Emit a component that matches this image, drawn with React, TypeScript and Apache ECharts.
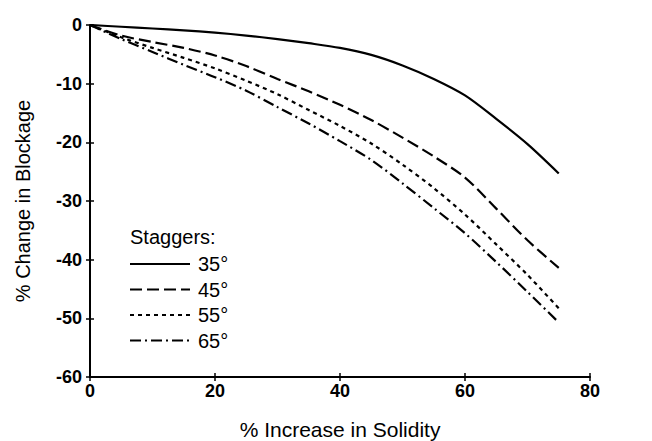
import React, { useEffect, useRef } from "react";
import * as echarts from "echarts";

// % increase in solidity (x) sampled every 5 units
const solidity = [0, 5, 10, 15, 20, 25, 30, 35, 40, 45, 50, 55, 60, 65, 70, 75];

// % change in blockage for each stagger angle
const stagger35 = [0, -0.3, -0.6, -0.9, -1.3, -1.8, -2.4, -3.1, -3.9, -5.1, -6.9, -9.2, -12.0, -16.0, -20.3, -25.3];
const stagger45 = [0, -1.8, -2.9, -3.9, -5.2, -7.0, -9.2, -11.3, -13.6, -16.2, -19.2, -22.4, -26.0, -31.3, -36.7, -41.4];
const stagger55 = [0, -2.1, -3.9, -5.6, -7.4, -9.5, -11.8, -14.5, -17.2, -20.2, -23.8, -27.8, -32.3, -37.4, -42.6, -48.3];
const stagger65 = [0, -2.4, -4.6, -6.8, -8.9, -11.2, -14.0, -16.8, -19.8, -23.0, -27.0, -31.2, -35.5, -40.4, -45.5, -50.7];

const seriesNames = ["35°", "45°", "55°", "65°"];
const seriesValues = [stagger35, stagger45, stagger55, stagger65];
const dashes: (string | number[])[] = ["solid", [12, 5], [4, 4], [11, 4, 2, 4]];

const xTicks = { min: 0, max: 80, interval: 20 };
const yTicks = { min: -60, max: 0, interval: 10 };

const FONT = "'Liberation Sans', Arial, Helvetica, sans-serif";

export default function App() {
  const ref = useRef<HTMLDivElement>(null);

  useEffect(() => {
    if (!ref.current) return;
    const chart = echarts.init(ref.current, undefined, { renderer: "svg" });

    // fixed plot rectangle; labels and names may sit outside it freely
    const grid = { left: 90, right: 62, top: 25, bottom: 64, outerBoundsMode: "none" };

    const axisBase = {
      type: "value" as const,
      splitLine: { show: false },
    };

    // legend block drawn at the lower left of the plot
    const legendX = 130;
    const legendTitleY = 237;
    const firstRowY = 264;
    const rowGap = 25.5;
    const legendGraphics: any[] = [
      {
        type: "text",
        x: legendX,
        y: legendTitleY,
        style: { text: "Staggers:", font: `20px ${FONT}`, fill: "#000", verticalAlign: "middle" },
      },
    ];
    seriesNames.forEach((name, i) => {
      const y = firstRowY + rowGap * i;
      const d = dashes[i];
      legendGraphics.push({
        type: "line",
        shape: { x1: legendX, y1: y, x2: legendX + 60, y2: y },
        style: {
          stroke: "#000",
          lineWidth: 2.2,
          lineDash: typeof d === "string" ? null : d,
        },
      });
      legendGraphics.push({
        type: "text",
        x: legendX + 68,
        y: y,
        style: {
          text: name,
          font: `20px ${FONT}`,
          fill: "#000",
          verticalAlign: "middle",
        },
      });
    });

    chart.setOption({
      animation: false,
      backgroundColor: "#fff",
      grid,
      xAxis: [
        {
          ...axisBase,
          ...xTicks,
          position: "bottom",
          name: "% Increase in Solidity",
          nameLocation: "middle",
          nameGap: 42,
          nameTextStyle: { fontFamily: FONT, fontSize: 21, color: "#000" },
          axisLine: { show: true, onZero: false, lineStyle: { color: "#000", width: 2 } },
          axisTick: { show: true, length: 4, lineStyle: { color: "#000", width: 1.5 } },
          axisLabel: { fontFamily: FONT, fontSize: 18, fontWeight: "bold", color: "#000", margin: 5 },
        },
        {
          ...axisBase,
          ...xTicks,
          position: "bottom",
          axisLine: { show: false, onZero: false },
          axisTick: { show: true, inside: true, length: 4, lineStyle: { color: "#000", width: 1.5 } },
          axisLabel: { show: false },
        },
      ],
      yAxis: [
        {
          ...axisBase,
          ...yTicks,
          position: "left",
          name: "% Change in Blockage",
          nameLocation: "middle",
          nameGap: 57,
          nameTextStyle: { fontFamily: FONT, fontSize: 20, color: "#000" },
          axisLine: { show: true, onZero: false, lineStyle: { color: "#000", width: 2 } },
          axisTick: { show: true, length: 4, lineStyle: { color: "#000", width: 1.5 } },
          axisLabel: { fontFamily: FONT, fontSize: 18, fontWeight: "bold", color: "#000", margin: 8 },
        },
        {
          ...axisBase,
          ...yTicks,
          position: "left",
          axisLine: { show: false, onZero: false },
          axisTick: { show: true, inside: true, length: 4, lineStyle: { color: "#000", width: 1.5 } },
          axisLabel: { show: false },
        },
      ],
      graphic: legendGraphics,
      series: seriesValues.map((vals, i) => ({
        name: seriesNames[i],
        type: "line",
        xAxisIndex: 0,
        yAxisIndex: 0,
        data: solidity.map((x, j) => [x, vals[j]]),
        symbol: "none",
        smooth: 0.3,
        lineStyle: { color: "#000", width: 2.2, type: dashes[i] },
      })),
    });

    return () => chart.dispose();
  }, []);

  return (
    <div
      ref={ref}
      style={{ position: "absolute", left: 0, top: 0, width: 652, height: 441 }}
    />
  );
}
